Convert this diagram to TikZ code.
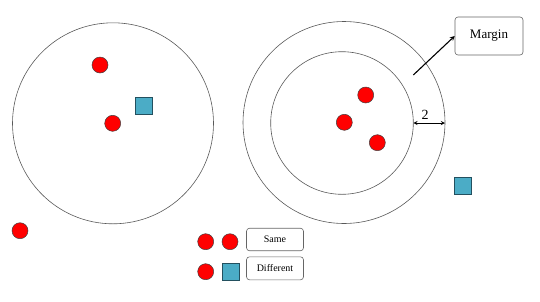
\documentclass[tikz,border=0pt]{standalone}
\usepackage{fontspec}
\setmainfont{Liberation Serif}
\usepackage{tikz}
\definecolor{dotred}{RGB}{255,0,0}
\definecolor{sqblue}{RGB}{75,172,198}
\definecolor{sqedge}{RGB}{35,80,95}
\tikzset{
  rdot/.style={circle,draw=black!75,fill=dotred,line width=0.5pt,minimum size=16pt,inner sep=0pt},
  bsq/.style={rectangle,draw=sqedge,fill=sqblue,line width=0.6pt,minimum size=17pt,inner sep=0pt},
  ring/.style={circle,draw=black!65,line width=0.6pt,inner sep=0pt,outer sep=0pt},
  tagbox/.style={rectangle,rounded corners=3pt,draw=black!60,line width=0.6pt,inner sep=0pt},
}

\begin{document}
\begin{tikzpicture}[x=1pt,y=-1pt]
  \useasboundingbox (0,0) rectangle (540,301);

  % left neighbourhood
  \node[ring,minimum size=201pt] (lring) at (113,123.3) {};
  \node[rdot] (l1) at (100,65) {};
  \node[rdot] (l2) at (112.7,123.3) {};
  \node[bsq] (l3) at (144,105.3) {};
  \node[rdot] (l4) at (20,230.7) {};

  % right neighbourhood with margin
  \node[ring,minimum size=202pt] (outer) at (344,122.5) {};
  \node[ring,minimum size=142.6pt] (inner) at (342,123) {};
  \node[rdot] (r1) at (365.7,95) {};
  \node[rdot] (r2) at (344.3,122.3) {};
  \node[rdot] (r3) at (377.3,142.7) {};
  \node[bsq] (r4) at (463,186) {};

  % margin width
  \draw[<->,>=stealth,line width=0.9pt] (inner.east) -- (inner.east -| outer.east)
    node[pos=0.37,above=0pt,font=\fontsize{14}{14}\selectfont] (wlab) {2};

  % margin label
  \node[tagbox,minimum width=68pt,minimum height=38pt,font=\fontsize{13}{13}\selectfont] (margin) at (489,36) {Margin};
  \coordinate (mstart) at (413.3,75);
  \draw[->,>=stealth,line width=1.1pt] (mstart) -- (margin.west |- 0,36) ;

  % legend
  \node[rdot] (s1) at (205.7,241.7) {};
  \node[rdot] (s2) at (230,241.7) {};
  \node[tagbox,minimum width=57pt,minimum height=22.5pt,font=\fontsize{10}{10}\selectfont] (same) at (275,239.5) {Same};
  \node[rdot] (d1) at (205.7,271.7) {};
  \node[bsq] (d2) at (231,271.7) {};
  \node[tagbox,minimum width=57pt,minimum height=23pt,font=\fontsize{10}{10}\selectfont] (diff) at (275,268.3) {Different};
\end{tikzpicture}
\end{document}
